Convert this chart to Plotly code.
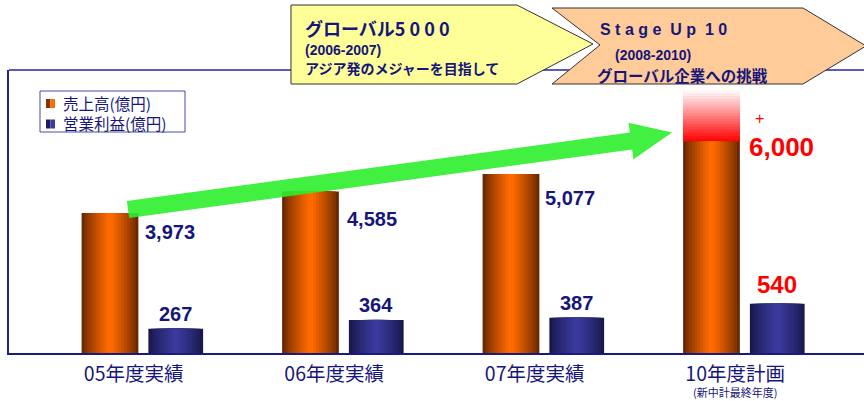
import plotly.graph_objects as go

# ---------------- data ----------------
categories = ["05年度実績", "06年度実績", "07年度実績", "10年度計画"]
sales = [3973, 4585, 5077, 6000]            # 売上高(億円)
op_profit = [267, 364, 387, 540]           # 営業利益(億円)
sales_labels = ["3,973", "4,585", "5,077", "6,000"]
profit_labels = ["267", "364", "387", "540"]
plan_upside_top = 7450                     # faded "+" band above the plan bar
legend_names = ["売上高(億円)", "営業利益(億円)"]
plan_note = "(新中計最終年度)"
banner1 = ["グローバル5\u00a00\u00a00\u00a00", "(2006-2007)", "アジア発のメジャーを目指して"]
banner2 = ["S\u00a0t\u00a0a\u00a0g\u00a0e\u00a0\u00a0U\u00a0p\u00a0\u00a01\u00a00", "(2008-2010)", "グローバル企業への挑戦"]

# ---------------- geometry helpers ----------------
W, H = 864, 401
L, R, T, B = 9, 0, 70, 48
PW, PH = W - L - R, H - T - B
UNIT = 200.5                                # px per category
X_RANGE = [-2 / 3, -2 / 3 + PW / UNIT]


def px(x):
    return (x - L) / PW


def py(y):
    return (H - B - y) / PH


def mix(c1, c2, t):
    return "rgb(%d,%d,%d)" % tuple(round(a + (b - a) * t) for a, b in zip(c1, c2))


NAVY = "#16167a"
JP = "Noto Sans CJK JP"
AR = "Liberation Sans"

fig = go.Figure()

# ---------------- bars (layered to fake a cylinder gradient) ----------------
N = 10
OR_W, OR_C = 0.283, -0.163
NV_W, NV_C = 0.273, 0.165
orange_edge, orange_mid = (105, 40, 0), (255, 106, 0)
navy_edge, navy_mid = (24, 24, 78), (58, 58, 156)

# faded red "+" band above the plan bar (nested bars, lightest/tallest first)
M = 18
seg = (plan_upside_top - sales[-1]) / M
for k in range(M, 0, -1):
    fig.add_bar(x=[categories[-1]], y=[k * seg], base=[sales[-1]],
                width=OR_W, offset=OR_C - OR_W / 2,
                marker=dict(color=mix((255, 0, 0), (255, 253, 253), (k - 0.5) / M), line_width=0),
                showlegend=False, hoverinfo="skip", yaxis="y")

for i in range(N):
    t = (i / (N - 1)) ** 0.8
    frac = 1 - i / N
    w = OR_W * frac
    fig.add_bar(x=categories, y=sales, width=w, offset=OR_C - w / 2,
                marker=dict(color=mix(orange_edge, orange_mid, t), line_width=0),
                name=legend_names[0], showlegend=False, hoverinfo="skip" if i else None,
                yaxis="y")
for i in range(N):
    t = (i / (N - 1)) ** 0.8
    frac = 1 - i / N
    w = NV_W * frac
    fig.add_bar(x=categories, y=op_profit, width=w, offset=NV_C - w / 2,
                marker=dict(color=mix(navy_edge, navy_mid, t), line_width=0),
                name=legend_names[1], showlegend=False, hoverinfo="skip" if i else None,
                yaxis="y2")

# ---------------- annotations ----------------
ann = []
sales_shift = [(0, -19), (2, -28), (-1, -24)]
for c, v, lab, (dx, dy) in zip(categories[:3], sales[:3], sales_labels[:3], sales_shift):
    ann.append(dict(x=c, y=v, xref="x", yref="y", text="<b>%s</b>" % lab, showarrow=False,
                    xanchor="left", yanchor="middle", xshift=dx, yshift=dy,
                    font=dict(family=AR, size=20, color=NAVY)))
ann.append(dict(x=categories[3], y=sales[3], xref="x", yref="y", text="<b>%s</b>" % sales_labels[3],
                showarrow=False, xanchor="left", yanchor="middle", xshift=3, yshift=-5,
                font=dict(family=AR, size=26, color="#ff0000")))
ann.append(dict(x=categories[3], y=sales[3], xref="x", yref="y", text="+",
                showarrow=False, xanchor="center", yanchor="middle", xshift=15, yshift=23,
                font=dict(family=AR, size=16, color="#ff0000")))
for c, v, lab in zip(categories[:3], op_profit[:3], profit_labels[:3]):
    ann.append(dict(x=c, y=v, xref="x", yref="y2", text="<b>%s</b>" % lab, showarrow=False,
                    xanchor="center", yanchor="middle", xshift=NV_C * UNIT, yshift=15,
                    font=dict(family=AR, size=20, color=NAVY)))
ann.append(dict(x=categories[3], y=op_profit[3], xref="x", yref="y2",
                text="<b>%s</b>" % profit_labels[3], showarrow=False,
                xanchor="center", yanchor="middle", xshift=NV_C * UNIT, yshift=19,
                font=dict(family=AR, size=24, color="#ff0000")))
ann.append(dict(x=categories[3], y=0, xref="x", yref="paper", text=plan_note, showarrow=False,
                xanchor="center", yanchor="bottom", xshift=-9, yshift=-48,
                font=dict(family=JP, size=11, color=NAVY), borderpad=0))

# legend (drawn manually)
leg_rows = [(legend_names[0], 103.5, ("#8a3200", "#ff6a00")),
            (legend_names[1], 124, ("#1e1e60", "#3c3ca0"))]
shapes = []
shapes.append(dict(type="line", xref="paper", yref="paper", x0=0, x1=1, y0=1, y1=1,
                   line=dict(color="#5c5cb4", width=2), layer="above"))
shapes.append(dict(type="rect", xref="paper", yref="paper", x0=px(40), x1=px(185),
                   y0=py(132), y1=py(91), line=dict(color="#4a4aa4", width=1),
                   fillcolor="white", layer="above"))
for name, yc, (c1, c2) in leg_rows:
    shapes.append(dict(type="rect", xref="paper", yref="paper", x0=px(46), x1=px(50.5),
                       y0=py(yc + 4.5), y1=py(yc - 4.5), line_width=0, fillcolor=c1, layer="above"))
    shapes.append(dict(type="rect", xref="paper", yref="paper", x0=px(50.5), x1=px(55),
                       y0=py(yc + 4.5), y1=py(yc - 4.5), line_width=0, fillcolor=c2, layer="above"))
    ann.append(dict(x=px(62), y=py(yc - 1), xref="paper", yref="paper", text=name,
                    showarrow=False, xanchor="left", yanchor="middle", borderpad=0,
                    font=dict(family=JP, size=15.5, color=NAVY)))


def poly(points):
    return "M " + " L ".join("%.5f,%.5f" % (px(a), py(b)) for a, b in points) + " Z"


# green trend arrow
tail, base, tip = (128, 209.5), (631, 141), (672, 132.5)
dxv, dyv = base[0] - tail[0], base[1] - tail[1]
ln = (dxv ** 2 + dyv ** 2) ** 0.5
nx, ny = -dyv / ln, dxv / ln
hw, hh = 8.5, 18.5
arrow_pts = [(tail[0] - hw * nx, tail[1] - hw * ny), (base[0] - hw * nx, base[1] - hw * ny),
             (base[0] - hh * nx, base[1] - hh * ny), tip,
             (base[0] + hh * nx, base[1] + hh * ny), (base[0] + hw * nx, base[1] + hw * ny),
             (tail[0] + hw * nx, tail[1] + hw * ny)]
shapes.append(dict(type="path", xref="paper", yref="paper", path=poly(arrow_pts),
                   fillcolor="rgba(45,238,45,0.9)", line_width=0, layer="above"))

# banners
shapes.append(dict(type="path", xref="paper", yref="paper",
                   path=poly([(291, 5), (517, 5), (593, 44), (517, 84), (291, 84)]),
                   fillcolor="#ffff99", line=dict(color="#333333", width=1), layer="above"))
shapes.append(dict(type="path", xref="paper", yref="paper",
                   path=poly([(552, 8), (803, 8), (866, 46), (803, 84), (552, 84), (600, 45)]),
                   fillcolor="#ffcc99", line=dict(color="#333333", width=1), layer="above"))

b_specs = [
    (banner1[0], 303, 27.5, JP, 18, True),
    (banner1[1], 303, 50, AR, 14, True),
    (banner1[2], 303, 68.5, JP, 14, True),
    (banner2[0], 598, 29, AR, 16, True),
    (banner2[1], 613, 55, AR, 14, True),
    (banner2[2], 595, 74.5, JP, 15.5, True),
]
for txt, x0, yc, fam, sz, bold in b_specs:
    ann.append(dict(x=px(x0), y=py(yc), xref="paper", yref="paper",
                    text="<b>%s</b>" % txt if bold else txt, showarrow=False,
                    xanchor="left", yanchor="middle",
                    font=dict(family=fam, size=sz, color=NAVY)))

fig.update_layout(
    width=W, height=H, margin=dict(l=L, r=R, t=T, b=B),
    paper_bgcolor="white", plot_bgcolor="white",
    barmode="overlay", showlegend=False,
    xaxis=dict(type="category", categoryorder="array", categoryarray=categories,
               range=X_RANGE, showgrid=False, zeroline=False,
               showline=True, linecolor="#1a1a80", linewidth=2, ticks="",
               tickfont=dict(family=JP, size=19.5, color=NAVY), ticklabelshift=-9,
               ticklabelstandoff=3),
    xaxis2=dict(overlaying="x", anchor="y", side="bottom",
                range=[X_RANGE[0] * 3, X_RANGE[1] * 3], tick0=0, dtick=1,
                ticks="inside", ticklen=5, tickwidth=1, tickcolor="#1a1a80",
                showticklabels=False, showgrid=False, zeroline=False, showline=False),
    yaxis=dict(range=[0, 8030], showgrid=False, zeroline=False, showticklabels=False,
               ticks="", showline=True, linecolor="#24248c", linewidth=2),
    yaxis2=dict(range=[0, 3110], overlaying="y", side="left", visible=False),
    annotations=ann, shapes=shapes,
)

fig.write_html("out.html", config={"displayModeBar": False},
               post_script="document.body.style.margin='0';document.body.style.padding='0';")
